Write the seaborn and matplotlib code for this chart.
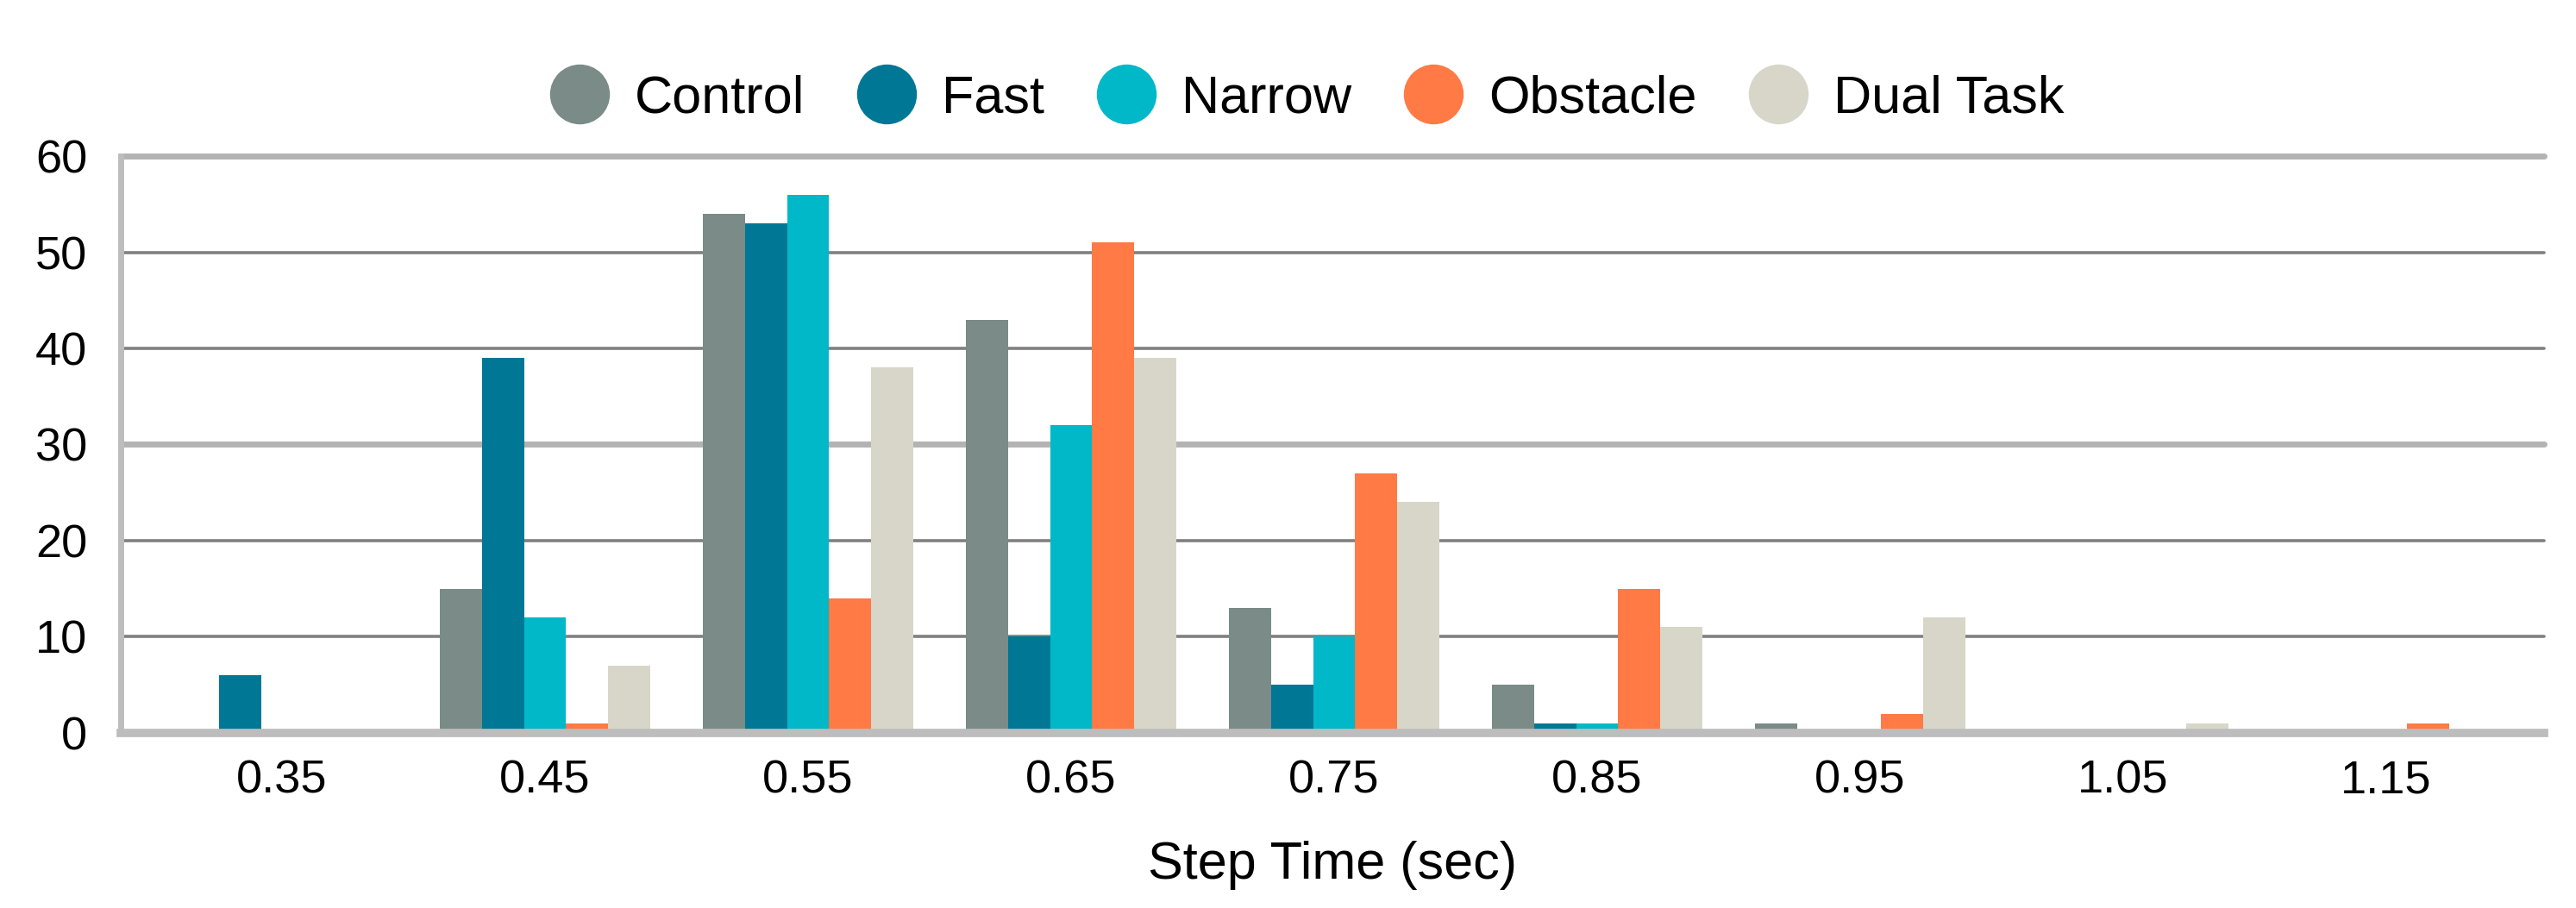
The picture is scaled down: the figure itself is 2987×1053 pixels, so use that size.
import matplotlib
matplotlib.use('Agg')
from matplotlib import pyplot as plt
from matplotlib.lines import Line2D
import pandas as pd
import seaborn as sns

# step time bins (sec) and counts per condition
bins = ['0.35', '0.45', '0.55', '0.65', '0.75', '0.85', '0.95', '1.05', '1.15']
control = [0, 15, 54, 43, 13, 5, 1, 0, 0]
fast = [6, 39, 53, 10, 5, 1, 0, 0, 0]
narrow = [0, 12, 56, 32, 10, 1, 0, 0, 0]
obstacle = [0, 1, 14, 51, 27, 15, 2, 0, 1]
dual_task = [0, 7, 38, 39, 24, 11, 12, 1, 0]

conditions = ['Control', 'Fast', 'Narrow', 'Obstacle', 'Dual Task']
colors = ['#7a8b88', '#007794', '#00b8c8', '#ff7a45', '#d8d6c8']

rows = list()
for name, counts in zip(conditions, [control, fast, narrow, obstacle, dual_task]):
    for b, c in zip(bins, counts):
        rows.append({'bin': b, 'count': c, 'condition': name})
df = pd.DataFrame(rows)

sns.set_style('white')
plt.rcParams['font.family'] = ['Liberation Sans', 'DejaVu Sans']
plt.rcParams['text.color'] = 'black'

fig = plt.figure(figsize=(29.87, 10.53), dpi=100)
ax = fig.add_axes([0.0469, 0.1928, 0.9407, 0.6353])

sns.barplot(
    ax=ax,
    data=df,
    x='bin',
    y='count',
    hue='condition',
    hue_order=conditions,
    order=bins,
    palette=colors,
    width=0.8,
    saturation=1,
    linewidth=0,
    legend=False,
)

ax.set_xlim(-0.613, 8.6)
ax.set_ylim(0, 60)
ax.set_yticks(range(0, 61, 10))
ax.set_axisbelow(True)

ax.yaxis.grid(True)
for val, line in zip(ax.get_yticks(), ax.get_ygridlines()):
    if val == 0:
        line.set_visible(False)
    elif val in (30, 60):
        line.set_color('#b3b3b3')
        line.set_linewidth(5)
    else:
        line.set_color('#808080')
        line.set_linewidth(2.6)
    line.set_clip_on(False)

for side in ['top', 'right']:
    ax.spines[side].set_visible(False)
ax.spines['left'].set_color('#bdbdbd')
ax.spines['left'].set_linewidth(5)
ax.spines['bottom'].set_color('#bdbdbd')
ax.spines['bottom'].set_linewidth(7)

ax.tick_params(axis='both', length=0, labelsize=39, colors='black', labelcolor='black')
ax.tick_params(axis='x', pad=22)
ax.tick_params(axis='y', pad=28)
ax.set_ylabel('')
ax.set_xlabel('Step Time (sec)', fontsize=44, labelpad=32, color='black')

handles = [Line2D([], [], linestyle='none', marker='o', markersize=50,
                  markerfacecolor=c, markeredgewidth=0) for c in colors]
fig.legend(handles, conditions, loc='center', bbox_to_anchor=(0.507, 0.891),
           ncol=len(conditions), frameon=False, fontsize=44, labelcolor='black',
           handlelength=1.2, handletextpad=0.45, columnspacing=0.95)

fig.savefig('out.png', dpi=100)
